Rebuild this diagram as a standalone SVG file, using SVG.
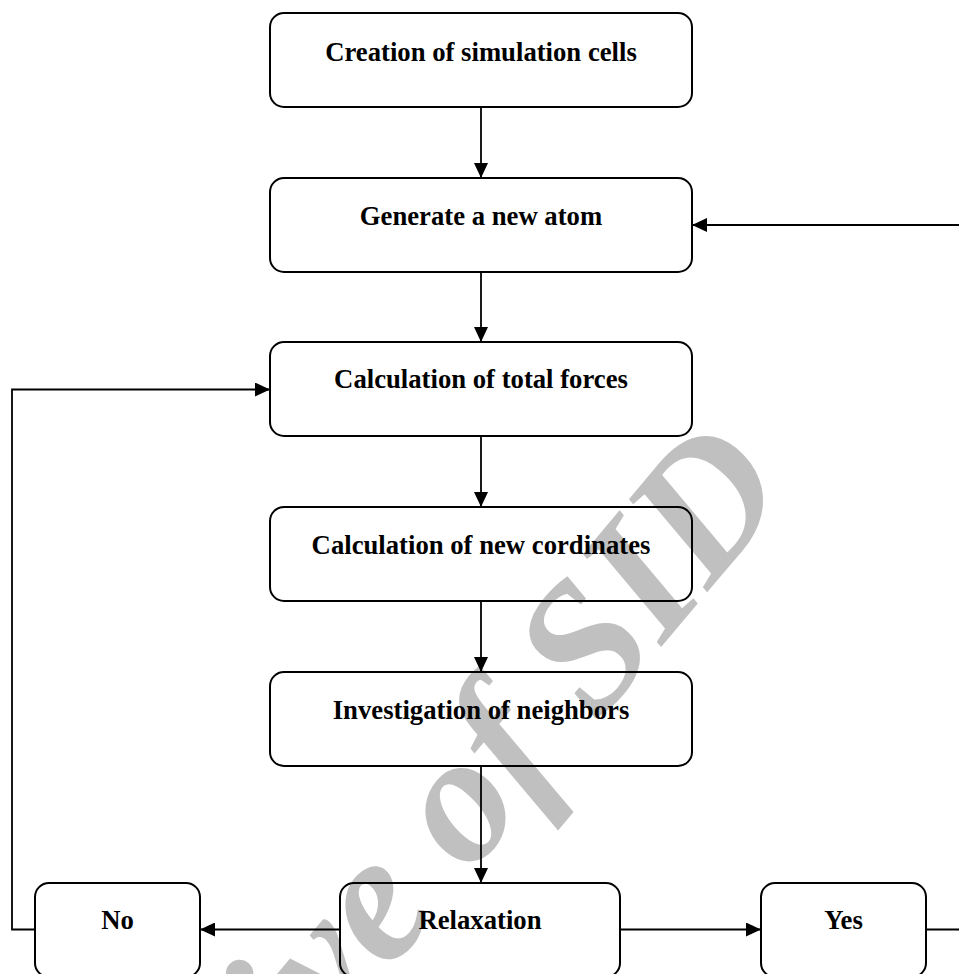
<svg xmlns="http://www.w3.org/2000/svg" width="959" height="974" viewBox="0 0 959 974">
<style>
.box{fill:none;stroke:#000;stroke-width:2}
.lbl{font-family:"Liberation Serif","Times New Roman",serif;font-weight:bold;font-size:26.7px;text-anchor:middle;fill:#000}
.con{fill:none;stroke:#000;stroke-width:1.8}
.wm{font-family:"Liberation Serif","Times New Roman",serif;font-weight:bold;font-style:italic;font-size:183px;fill:#c0c0c0;text-anchor:end}
</style>
<defs>
<marker id="ah" viewBox="0 0 15 14" refX="15" refY="7" markerWidth="15" markerHeight="14" markerUnits="userSpaceOnUse" orient="auto">
<path d="M0,0 L15,7 L0,14 Z" fill="#000"/>
</marker>
</defs>
<rect width="959" height="974" fill="#fff"/>
<text class="wm" transform="translate(793,490) rotate(-50)">Archive of SID</text>
<g id="n1"><rect class="box" x="270" y="13" width="422" height="94" rx="14"/><text class="lbl" x="481" y="61">Creation of simulation cells</text></g>
<g id="n2"><rect class="box" x="270" y="178" width="422" height="94" rx="14"/><text class="lbl" x="481" y="225">Generate a new atom</text></g>
<g id="n3"><rect class="box" x="270" y="342" width="422" height="94" rx="14"/><text class="lbl" x="481" y="388">Calculation of total forces</text></g>
<g id="n4"><rect class="box" x="270" y="507" width="422" height="94" rx="14"/><text class="lbl" x="481" y="554">Calculation of new cordinates</text></g>
<g id="n5"><rect class="box" x="270" y="672" width="422" height="94" rx="14"/><text class="lbl" x="481" y="719">Investigation of neighbors</text></g>
<g id="n6"><rect class="box" x="340" y="883" width="280" height="94" rx="14"/><text class="lbl" x="480" y="929">Relaxation</text></g>
<g id="n7"><rect class="box" x="35" y="883" width="165" height="94" rx="14"/><text class="lbl" x="117.5" y="929">No</text></g>
<g id="n8"><rect class="box" x="761" y="883" width="165" height="94" rx="14"/><text class="lbl" x="843.5" y="929">Yes</text></g>
<g id="connectors">
<path class="con" d="M481,107 V178" marker-end="url(#ah)"/>
<path class="con" d="M481,272 V342" marker-end="url(#ah)"/>
<path class="con" d="M481,436 V507" marker-end="url(#ah)"/>
<path class="con" d="M481,601 V672" marker-end="url(#ah)"/>
<path class="con" d="M481,766 V883" marker-end="url(#ah)"/>
<path class="con" d="M340,929.5 H200" marker-end="url(#ah)"/>
<path class="con" d="M620,929.5 H761" marker-end="url(#ah)"/>
<path class="con" d="M926,929.5 H962 V225 H692" marker-end="url(#ah)"/>
<path class="con" d="M35,929.5 H12 V389.5 H270" marker-end="url(#ah)"/>
</g>
</svg>
